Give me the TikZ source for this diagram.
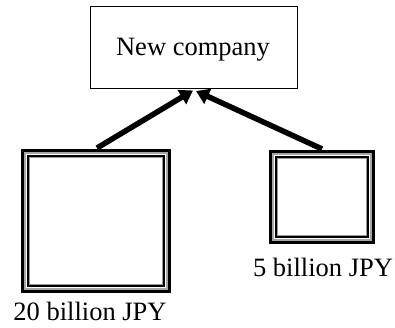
\documentclass[tikz,border=0pt]{standalone}
\usepackage{fontspec}
\setmainfont{Liberation Serif}
\usetikzlibrary{arrows.meta,calc}
\tikzset{
  txt/.style={font=\fontsize{26.5}{30}\selectfont, inner sep=0pt, anchor=base},
  cobox/.style={draw=black, line width=1pt, inner sep=0pt},
  fundbox/.style={draw=black, line width=3pt, inner sep=0pt},
  midline/.style={draw=black!35, line width=2.2pt},
  innerline/.style={draw=black, line width=2pt},
  gline/.style={draw=black!40, line width=0.8pt},
  flow/.style={line width=5.5pt, -{Triangle[length=13pt,width=16pt]}}
}
\begin{document}
\begin{tikzpicture}[x=1pt,y=1pt]
\useasboundingbox (0,0) rectangle (395,-327);
% New company
\node[cobox, minimum width=207pt, minimum height=82pt] (nc) at (194,-47.5) {};
\node[txt] (nct) at (193,-55) {New company};
% left fund
\node[fundbox, minimum width=147pt, minimum height=141pt] (L) at (96,-221) {};
\draw[midline] ($(L.north west)+(4.2pt,-4.2pt)$) rectangle ($(L.south east)+(-4.2pt,4.2pt)$);
\draw[innerline] ($(L.north west)+(6.8pt,-6.8pt)$) rectangle ($(L.south east)+(-6.8pt,6.8pt)$);
\draw[gline] ($(L.north west)+(8.3pt,-8.3pt)$) rectangle ($(L.south east)+(-8.3pt,8.3pt)$);
\node[txt] (Lt) at (90,-320) {20 billion JPY};
% right fund
\node[fundbox, minimum width=103pt, minimum height=91pt] (R) at (322,-197) {};
\draw[midline] ($(R.north west)+(4.2pt,-4.2pt)$) rectangle ($(R.south east)+(-4.2pt,4.2pt)$);
\draw[innerline] ($(R.north west)+(6.8pt,-6.8pt)$) rectangle ($(R.south east)+(-6.8pt,6.8pt)$);
\draw[gline] ($(R.north west)+(8.3pt,-8.3pt)$) rectangle ($(R.south east)+(-8.3pt,8.3pt)$);
\node[txt] (Rt) at (323,-276.5) {5 billion JPY};
% arrows
\coordinate (tipL) at ($(nc.south)+(-1pt,-1.5pt)$);
\coordinate (tipR) at ($(nc.south)+(2pt,-2pt)$);
\draw[flow] ($(L.north)+(1pt,1pt)$) -- (tipL);
\draw[flow] ($(R.north)+(0pt,1pt)$) -- (tipR);
\end{tikzpicture}
\end{document}
